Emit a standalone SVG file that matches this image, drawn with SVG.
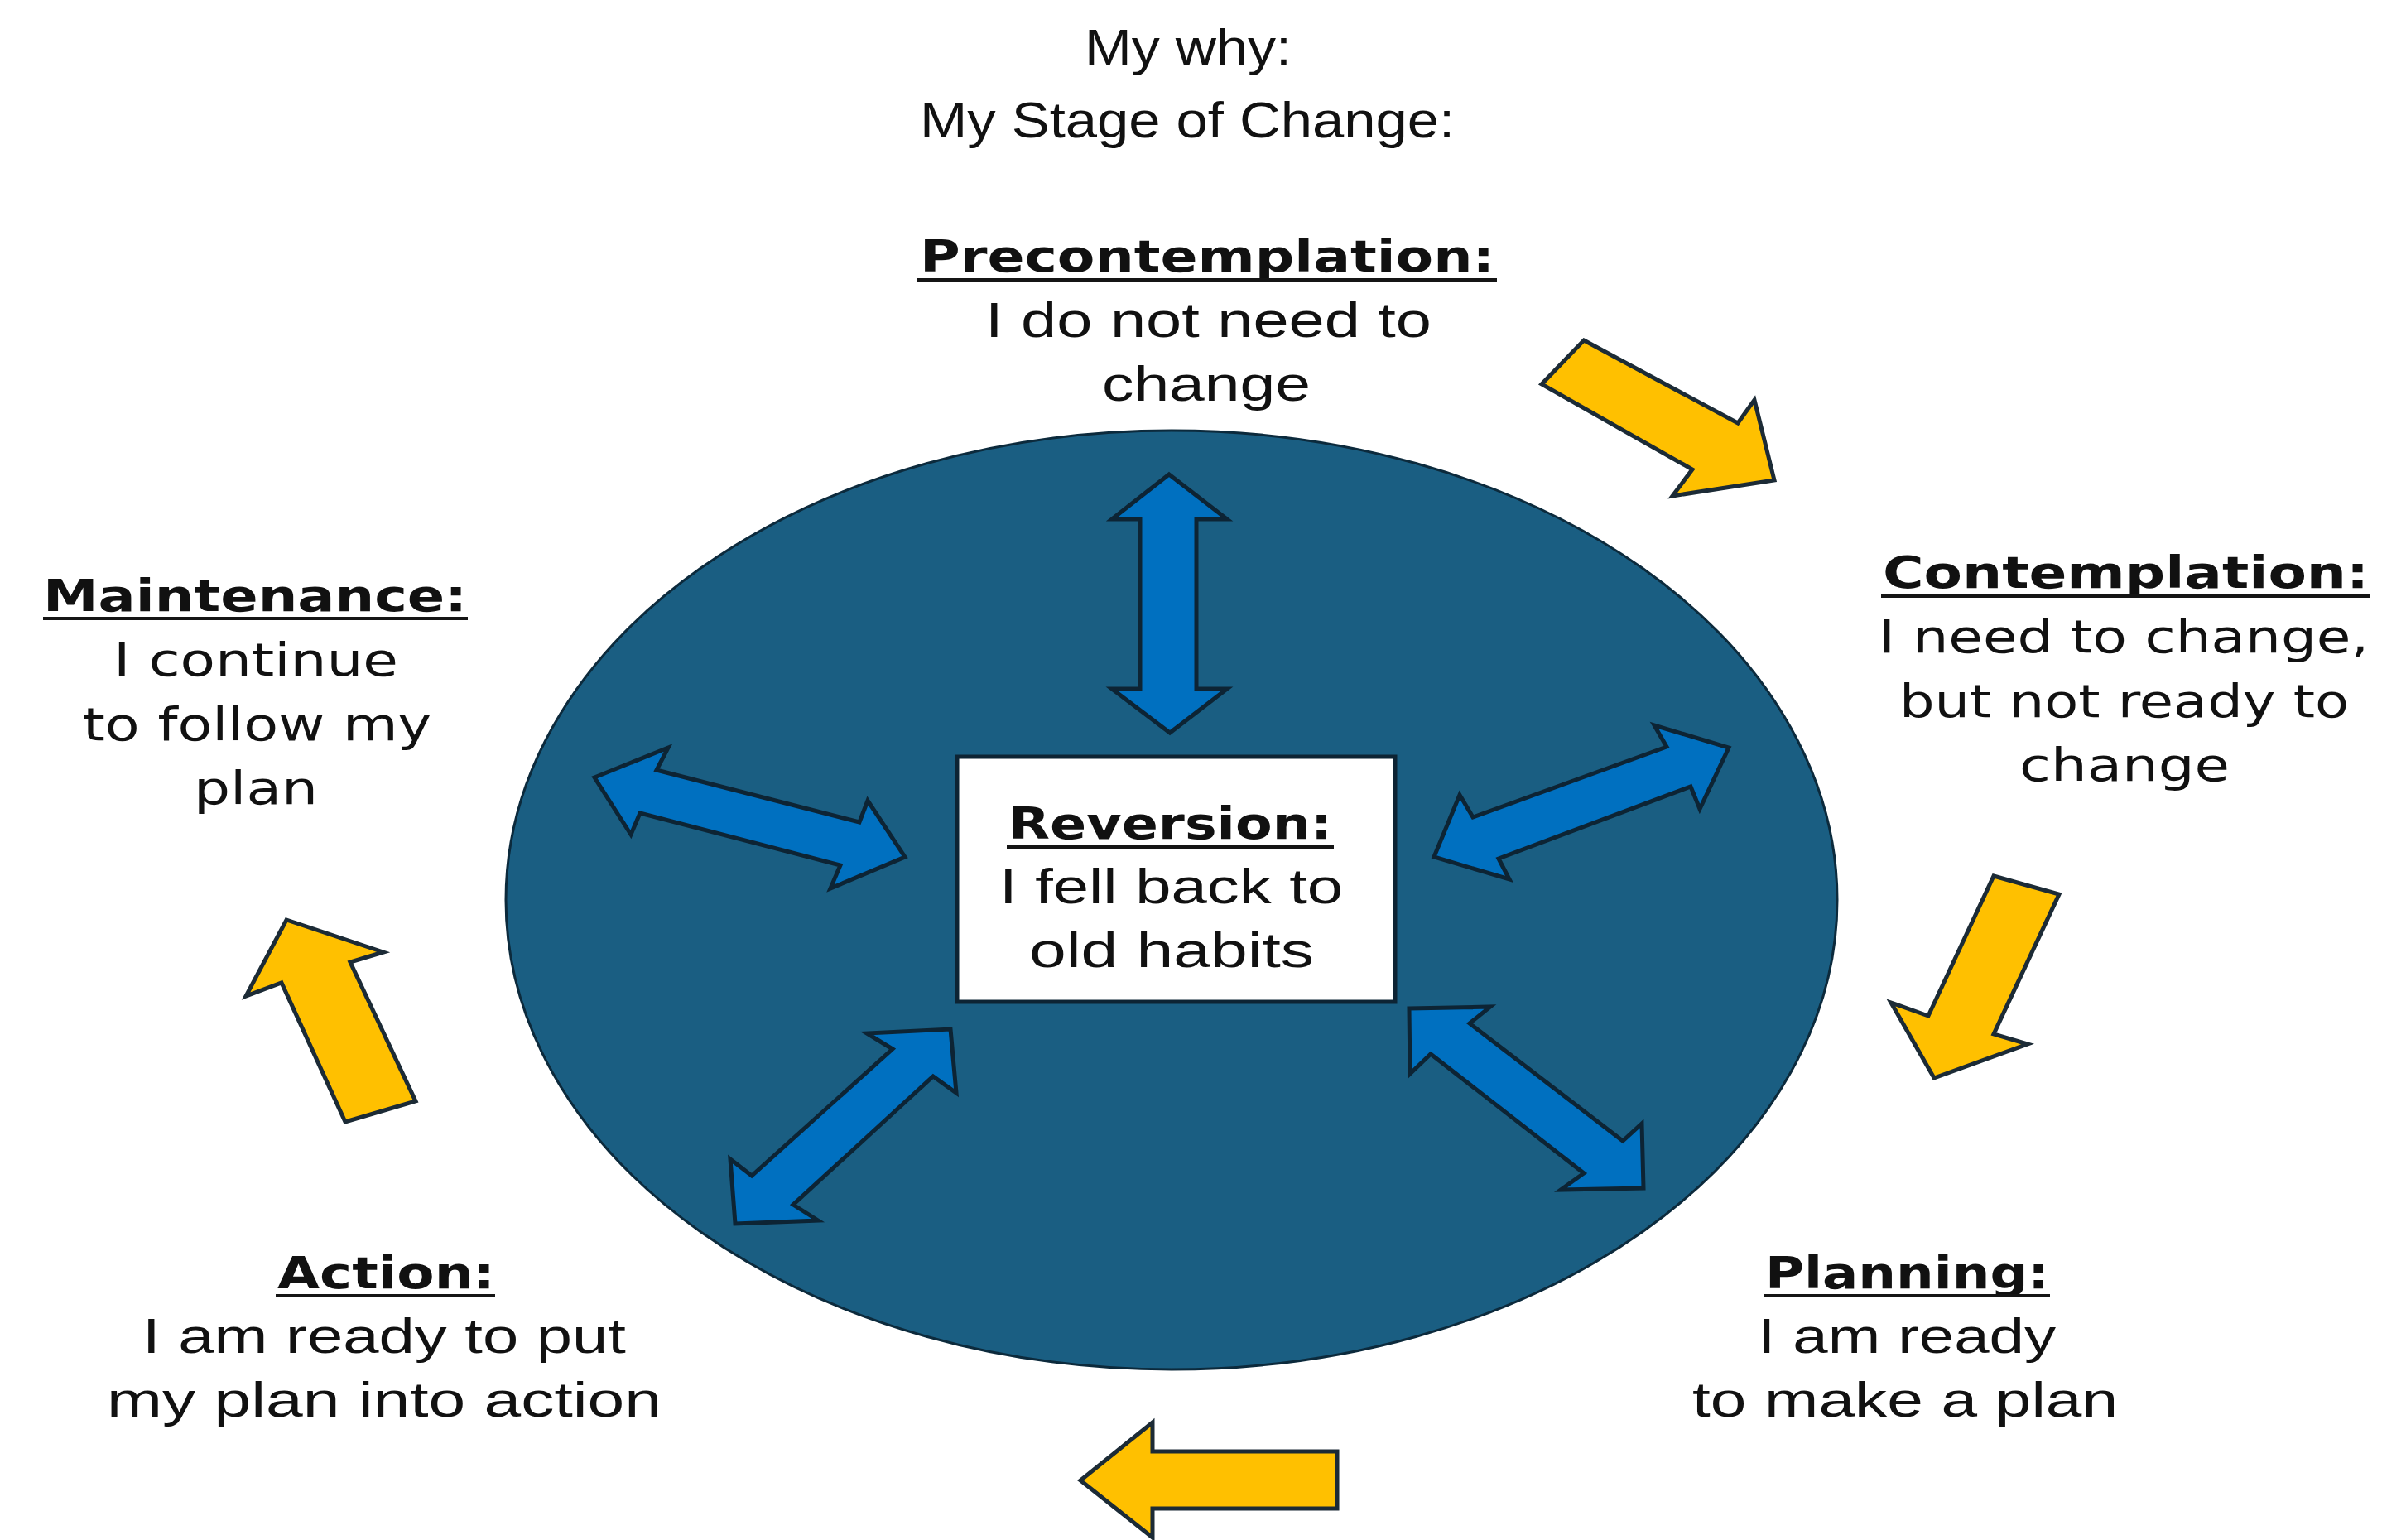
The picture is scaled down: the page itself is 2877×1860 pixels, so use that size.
<svg xmlns="http://www.w3.org/2000/svg" width="2877" height="1860" viewBox="0 0 2877 1860">
  <style>
    text { fill: #111111; }
    .title { font-family: "Liberation Sans", Arial, sans-serif; font-size: 62px; }
    .head { font-family: "DejaVu Sans", Verdana, sans-serif; font-weight: bold; font-size: 53px; }
    .wide { font-family: "DejaVu Sans", Verdana, sans-serif; font-size: 56px; }
    .body { font-family: "Liberation Sans", Arial, sans-serif; font-size: 59px; }
    .ul { stroke: #151515; stroke-width: 4; }
    .stage { fill: #1a5e82; stroke: #0c2a3c; stroke-width: 3; }
    .box { fill: #ffffff; stroke: #0d2434; stroke-width: 5; }
    .link { fill: #0070c0; stroke: #0d2434; stroke-width: 5; stroke-linejoin: miter; }
    .flow { fill: #ffc000; stroke: #1c2b36; stroke-width: 5; stroke-linejoin: miter; }
  </style>

  <rect width="2877" height="1860" fill="#ffffff"/>

  <!-- heading -->
  <g id="title">
    <text class="title" x="1310" y="78" textLength="250" lengthAdjust="spacingAndGlyphs">My why:</text>
    <text class="title" x="1111" y="166" textLength="646" lengthAdjust="spacingAndGlyphs">My Stage of Change:</text>
  </g>

  <!-- central disc -->
  <g id="cycle-disc">
    <ellipse class="stage" cx="1415" cy="1087" rx="804" ry="567"/>
  </g>

  <!-- arrows -->
  <g id="connectors">
    <!-- double arrows between the centre and each stage -->
    <polygon class="link" points="1412,573 1482,627 1445,627 1445,832 1482,832 1413,885 1343,832 1377,832 1377,627 1343,627"/>
    <polygon class="link" points="718,939 807,903 793,930 1038,993 1048,967 1093,1035 1003,1073 1015,1045 773,982 762,1008"/>
    <polygon class="link" points="1732,1035 1763,960 1779,987 2013,902 1998,876 2088,903 2053,977 2042,950 1810,1037 1823,1062"/>
    <polygon class="link" points="1148,1243 1155,1320 1127,1300 958,1455 988,1474 888,1478 882,1400 908,1420 1078,1267 1047,1248"/>
    <polygon class="link" points="1702,1218 1800,1216 1775,1236 1960,1378 1983,1357 1985,1435 1885,1437 1913,1417 1728,1273 1703,1297"/>
    <!-- cycle arrows around the disc -->
    <polygon class="flow" points="1913,411 2099,511 2119,483 2143,580 2020,599 2044,567 1862,464"/>
    <polygon class="flow" points="2408,1058 2487,1080 2408,1249 2449,1261 2336,1302 2284,1211 2329,1227"/>
    <polygon class="flow" points="1305,1788 1392,1718 1392,1753 1615,1753 1615,1822 1392,1822 1392,1857"/>
    <polygon class="flow" points="346,1111 463,1150 423,1162 502,1330 417,1355 340,1187 297,1203"/>
  </g>

  <g id="node-precontemplation">
    <text class="head" x="1111" y="328" textLength="694" lengthAdjust="spacingAndGlyphs">Precontemplation:</text>
    <line class="ul" x1="1108" y1="338" x2="1808" y2="338"/>
    <text class="body" x="1190" y="407" textLength="539" lengthAdjust="spacingAndGlyphs">I do not need to</text>
    <text class="body" x="1331" y="484" textLength="252" lengthAdjust="spacingAndGlyphs">change</text>
  </g>

  <g id="node-contemplation">
    <text class="head" x="2274" y="710" textLength="587" lengthAdjust="spacingAndGlyphs">Contemplation:</text>
    <line class="ul" x1="2272" y1="720" x2="2862" y2="720"/>
    <text class="wide" x="2269" y="788" textLength="592" lengthAdjust="spacingAndGlyphs">I need to change,</text>
    <text class="wide" x="2294" y="866" textLength="543" lengthAdjust="spacingAndGlyphs">but not ready to</text>
    <text class="wide" x="2439" y="943" textLength="254" lengthAdjust="spacingAndGlyphs">change</text>
  </g>

  <g id="node-maintenance">
    <text class="head" x="52" y="738" textLength="512" lengthAdjust="spacingAndGlyphs">Maintenance:</text>
    <line class="ul" x1="52" y1="747" x2="565" y2="747"/>
    <text class="wide" x="137" y="816" textLength="344" lengthAdjust="spacingAndGlyphs">I continue</text>
    <text class="wide" x="100" y="894" textLength="421" lengthAdjust="spacingAndGlyphs">to follow my</text>
    <text class="wide" x="234" y="971" textLength="150" lengthAdjust="spacingAndGlyphs">plan</text>
  </g>

  <g id="node-reversion">
    <rect class="box" x="1156" y="914" width="529" height="296"/>
    <text class="head" x="1218" y="1013" textLength="391" lengthAdjust="spacingAndGlyphs">Reversion:</text>
    <line class="ul" x1="1216" y1="1023" x2="1611" y2="1023"/>
    <text class="body" x="1207" y="1091" textLength="415" lengthAdjust="spacingAndGlyphs">I fell back to</text>
    <text class="body" x="1243" y="1168" textLength="344" lengthAdjust="spacingAndGlyphs">old habits</text>
  </g>

  <g id="node-action">
    <text class="head" x="335" y="1556" textLength="263" lengthAdjust="spacingAndGlyphs">Action:</text>
    <line class="ul" x1="333" y1="1565" x2="598" y2="1565"/>
    <text class="body" x="172" y="1634" textLength="584" lengthAdjust="spacingAndGlyphs">I am ready to put</text>
    <text class="body" x="129" y="1711" textLength="670" lengthAdjust="spacingAndGlyphs">my plan into action</text>
  </g>

  <g id="node-planning">
    <text class="head" x="2132" y="1556" textLength="343" lengthAdjust="spacingAndGlyphs">Planning:</text>
    <line class="ul" x1="2130" y1="1565" x2="2476" y2="1565"/>
    <text class="body" x="2123" y="1634" textLength="360" lengthAdjust="spacingAndGlyphs">I am ready</text>
    <text class="body" x="2044" y="1711" textLength="514" lengthAdjust="spacingAndGlyphs">to make a plan</text>
  </g>
</svg>
